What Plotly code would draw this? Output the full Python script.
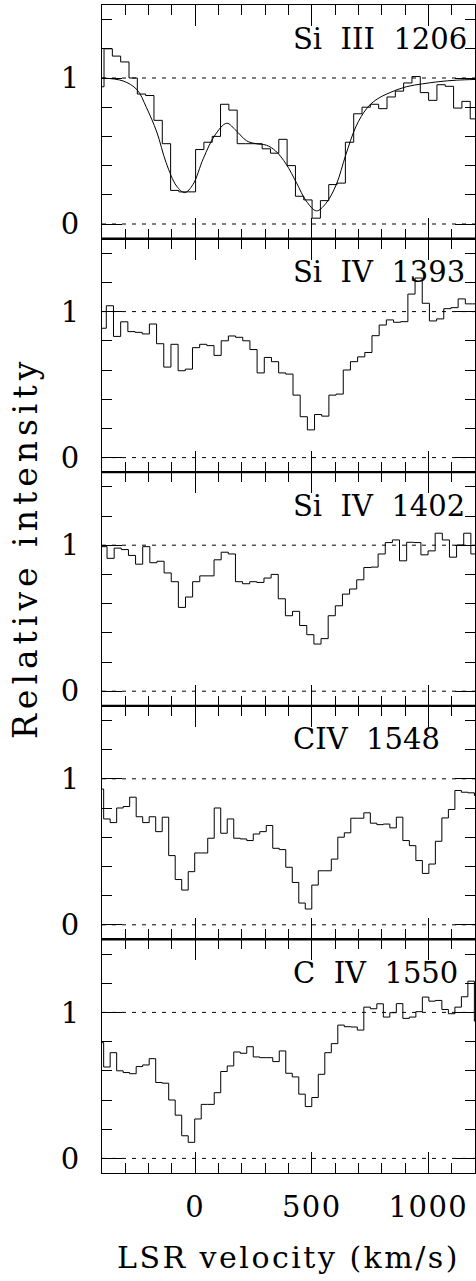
import numpy as np
import plotly.graph_objects as go
from plotly.subplots import make_subplots

# ---------------- data ----------------
panel_names = ["Si\u00a0 III\u00a0 1206", "Si\u00a0 IV\u00a0 1393", "Si\u00a0 IV\u00a0 1402",
               "CIV\u00a0 1548", "C\u00a0 IV\u00a0 1550"]

# bin start velocity (km/s) and bin width (km/s) of each spectrum
si3_v0, si3_dv = -427.0, 35.7
si4a_v0, si4a_dv = -412.3, 30.8
si4b_v0, si4b_dv = -409.0, 30.6
c4a_v0, c4a_dv = -420.8, 27.9
c4b_v0, c4b_dv = -420.8, 27.9

si3_flux = [0.94, 1.20, 1.15, 1.11, 1.00, 0.89, 0.88, 0.71, 0.55, 0.23, 0.22, 0.22,
            0.51, 0.56, 0.60, 0.82, 0.78, 0.55, 0.55, 0.55, 0.515, 0.485, 0.58, 0.40,
            0.19, 0.165, 0.04, 0.16, 0.27, 0.28, 0.56, 0.755, 0.80, 0.82, 0.79, 0.87,
            0.91, 0.966, 1.01, 0.90, 0.847, 0.954, 0.943, 0.794, 0.84, 0.72]

si4a_flux = [0.886, 1.04, 0.83, 0.93, 0.863, 0.858, 0.847, 0.915, 0.78, 0.62, 0.776,
             0.595, 0.606, 0.753, 0.776, 0.767, 0.70, 0.80, 0.833, 0.824, 0.80, 0.74,
             0.58, 0.686, 0.657, 0.58, 0.572, 0.428, 0.28, 0.19, 0.295, 0.284, 0.428,
             0.435, 0.60, 0.657, 0.69, 0.72, 0.835, 0.908, 0.943, 0.927, 0.931, 1.12,
             1.23, 1.057, 0.936, 0.95, 1.02, 1.027, 1.087, 1.053, 1.053]

si4b_flux = [0.99, 0.91, 0.98, 0.97, 0.93, 0.87, 0.99, 0.88, 0.89, 0.81, 0.75, 0.574,
             0.645, 0.75, 0.79, 0.79, 0.90, 0.952, 0.94, 0.75, 0.736, 0.75, 0.745,
             0.775, 0.80, 0.633, 0.517, 0.547, 0.45, 0.387, 0.323, 0.36, 0.517, 0.585,
             0.665, 0.70, 0.763, 0.847, 0.85, 0.94, 1.018, 1.036, 0.893, 1.02, 1.018,
             0.934, 0.961, 1.082, 1.036, 0.918, 1.002, 1.082, 0.94]

c4a_flux = [0.93, 0.725, 0.70, 0.80, 0.81, 0.874, 0.74, 0.70, 0.74, 0.638, 0.737, 0.474,
            0.31, 0.238, 0.364, 0.492, 0.492, 0.593, 0.80, 0.627, 0.725, 0.593, 0.588,
            0.577, 0.622, 0.638, 0.68, 0.524, 0.515, 0.394, 0.29, 0.149, 0.108, 0.272,
            0.37, 0.37, 0.45, 0.60, 0.63, 0.73, 0.73, 0.767, 0.696, 0.686, 0.69, 0.664,
            0.737, 0.577, 0.542, 0.44, 0.352, 0.416, 0.572, 0.732, 0.79, 0.92, 0.908,
            0.904, 0.885]

c4b_flux = [0.793, 0.626, 0.724, 0.60, 0.588, 0.58, 0.629, 0.64, 0.683, 0.52, 0.515,
            0.40, 0.296, 0.155, 0.11, 0.27, 0.37, 0.37, 0.45, 0.595, 0.633, 0.729, 0.72,
            0.765, 0.695, 0.69, 0.69, 0.663, 0.736, 0.583, 0.558, 0.44, 0.355, 0.417,
            0.576, 0.724, 0.786, 0.913, 0.902, 0.90, 0.879, 1.036, 1.025, 1.059, 0.968,
            0.998, 1.06, 0.959, 0.968, 1.005, 1.105, 1.077, 1.082, 1.02, 0.991, 1.036,
            1.107, 1.214, 0.94]

# model fit drawn over the Si III 1206 profile
si3_fit_v = [-400, -310, -250, -210, -165, -125, -80, -45, -10, 35, 85, 135, 175, 220,
             260, 305, 345, 390, 435, 475, 520, 560, 605, 645, 690, 735, 775, 835, 905,
             975, 1045, 1120, 1200]
si3_fit_f = [1.0, 0.98, 0.92, 0.80, 0.63, 0.42, 0.26, 0.215, 0.27, 0.45, 0.61, 0.69,
             0.64, 0.57, 0.55, 0.54, 0.50, 0.41, 0.28, 0.16, 0.09, 0.14, 0.27, 0.47,
             0.67, 0.79, 0.85, 0.90, 0.94, 0.96, 0.975, 0.985, 0.99]

x_range = [-400, 1200]
y_range = [-0.1, 1.5]
x_tickvals = [0, 500, 1000]
x_ticktext = ["0", "500", "1000"]
x_title = "LSR velocity (km/s)"
y_title = "Relative intensity"

spectra = [(si3_v0, si3_dv, si3_flux), (si4a_v0, si4a_dv, si4a_flux),
           (si4b_v0, si4b_dv, si4b_flux), (c4a_v0, c4a_dv, c4a_flux),
           (c4b_v0, c4b_dv, c4b_flux)]


def spaced(txt, ls):
    return f'<span style="letter-spacing:{ls}px">{txt}</span>'


# ---------------- figure ----------------
FONT = "DejaVu Serif"
W, H = 476, 1281
ML, MR, MT, MB = 102, 1, 5, 108
n = len(spectra)

fig = make_subplots(rows=n, cols=1, shared_xaxes=True, vertical_spacing=0)

for i, (v0, dv, flux) in enumerate(spectra):
    r = i + 1
    edges = v0 + dv * np.arange(len(flux) + 1)
    yy = list(flux) + [flux[-1]]
    fig.add_trace(go.Scatter(x=edges, y=yy, mode="lines", line_shape="hv",
                             line=dict(color="black", width=1), showlegend=False,
                             hoverinfo="skip"), row=r, col=1)
    if i == 0:
        fig.add_trace(go.Scatter(x=si3_fit_v, y=si3_fit_f, mode="lines",
                                 line_shape="spline",
                                 line=dict(color="black", width=1), showlegend=False,
                                 hoverinfo="skip"), row=r, col=1)
    for lev in (0, 1):
        fig.add_hline(y=lev, row=r, col=1,
                      line=dict(color="black", width=1, dash="4px,6px"))
    fig.add_annotation(text=panel_names[i],
                       xref=f"x{'' if r == 1 else r} domain",
                       yref=f"y{'' if r == 1 else r}", x=0.507, y=1.27,
                       xanchor="left", yanchor="middle", showarrow=False,
                       font=dict(family=FONT, size=29, color="black"))

for r in range(1, n + 1):
    top = 1 - (r - 1) / n
    bot = 1 - r / n
    fig.update_yaxes(row=r, col=1, domain=[bot, top], range=y_range,
                     tickmode="linear", tick0=0, dtick=1, ticks="inside",
                     ticklen=20, tickwidth=1, tickcolor="black",
                     minor=dict(ticks="inside", tickmode="linear", tick0=0, dtick=0.2,
                                ticklen=10, tickwidth=1, tickcolor="black"),
                     showline=True, linecolor="black", linewidth=1, mirror="ticks",
                     showgrid=False, zeroline=False, ticklabelstandoff=16,
                     tickfont=dict(family=FONT, size=29, color="black"))
    fig.update_xaxes(row=r, col=1, range=x_range,
                     tickmode="array", tickvals=x_tickvals,
                     ticktext=[spaced(t, 1.5) for t in x_ticktext], ticks="inside",
                     ticklen=21, tickwidth=1, tickcolor="black",
                     minor=dict(ticks="inside", tickmode="linear", tick0=0, dtick=100,
                                ticklen=10, tickwidth=1, tickcolor="black"),
                     showline=True, linecolor="black", linewidth=1, mirror="ticks",
                     showgrid=False, zeroline=False,
                     showticklabels=(r == n), ticklabelstandoff=8,
                     tickfont=dict(family=FONT, size=29, color="black"))

# thicker separators between panels
for k in range(1, n):
    yb = 1 - k / n
    fig.add_shape(type="line", xref="paper", yref="paper", x0=0, x1=1, y0=yb, y1=yb,
                  line=dict(color="black", width=2))

plot_h = H - MT - MB
plot_w = W - ML - MR
fig.add_annotation(text=spaced(x_title, 2.5), xref="paper", yref="paper", x=0.5,
                   y=-(1257 - (H - MB)) / plot_h, xanchor="center", yanchor="middle",
                   showarrow=False, font=dict(family=FONT, size=30, color="black"))
fig.add_annotation(text=spaced(y_title, 5), xref="paper", yref="paper",
                   x=(25 - ML) / plot_w,
                   y=((H - MB) - 548) / plot_h, xanchor="center", yanchor="middle",
                   textangle=-90, showarrow=False,
                   font=dict(family=FONT, size=33, color="black"))

fig.update_layout(width=W, height=H, margin=dict(l=ML, r=MR, t=MT, b=MB),
                  paper_bgcolor="white", plot_bgcolor="white", showlegend=False)

fig.write_html("out.html")
